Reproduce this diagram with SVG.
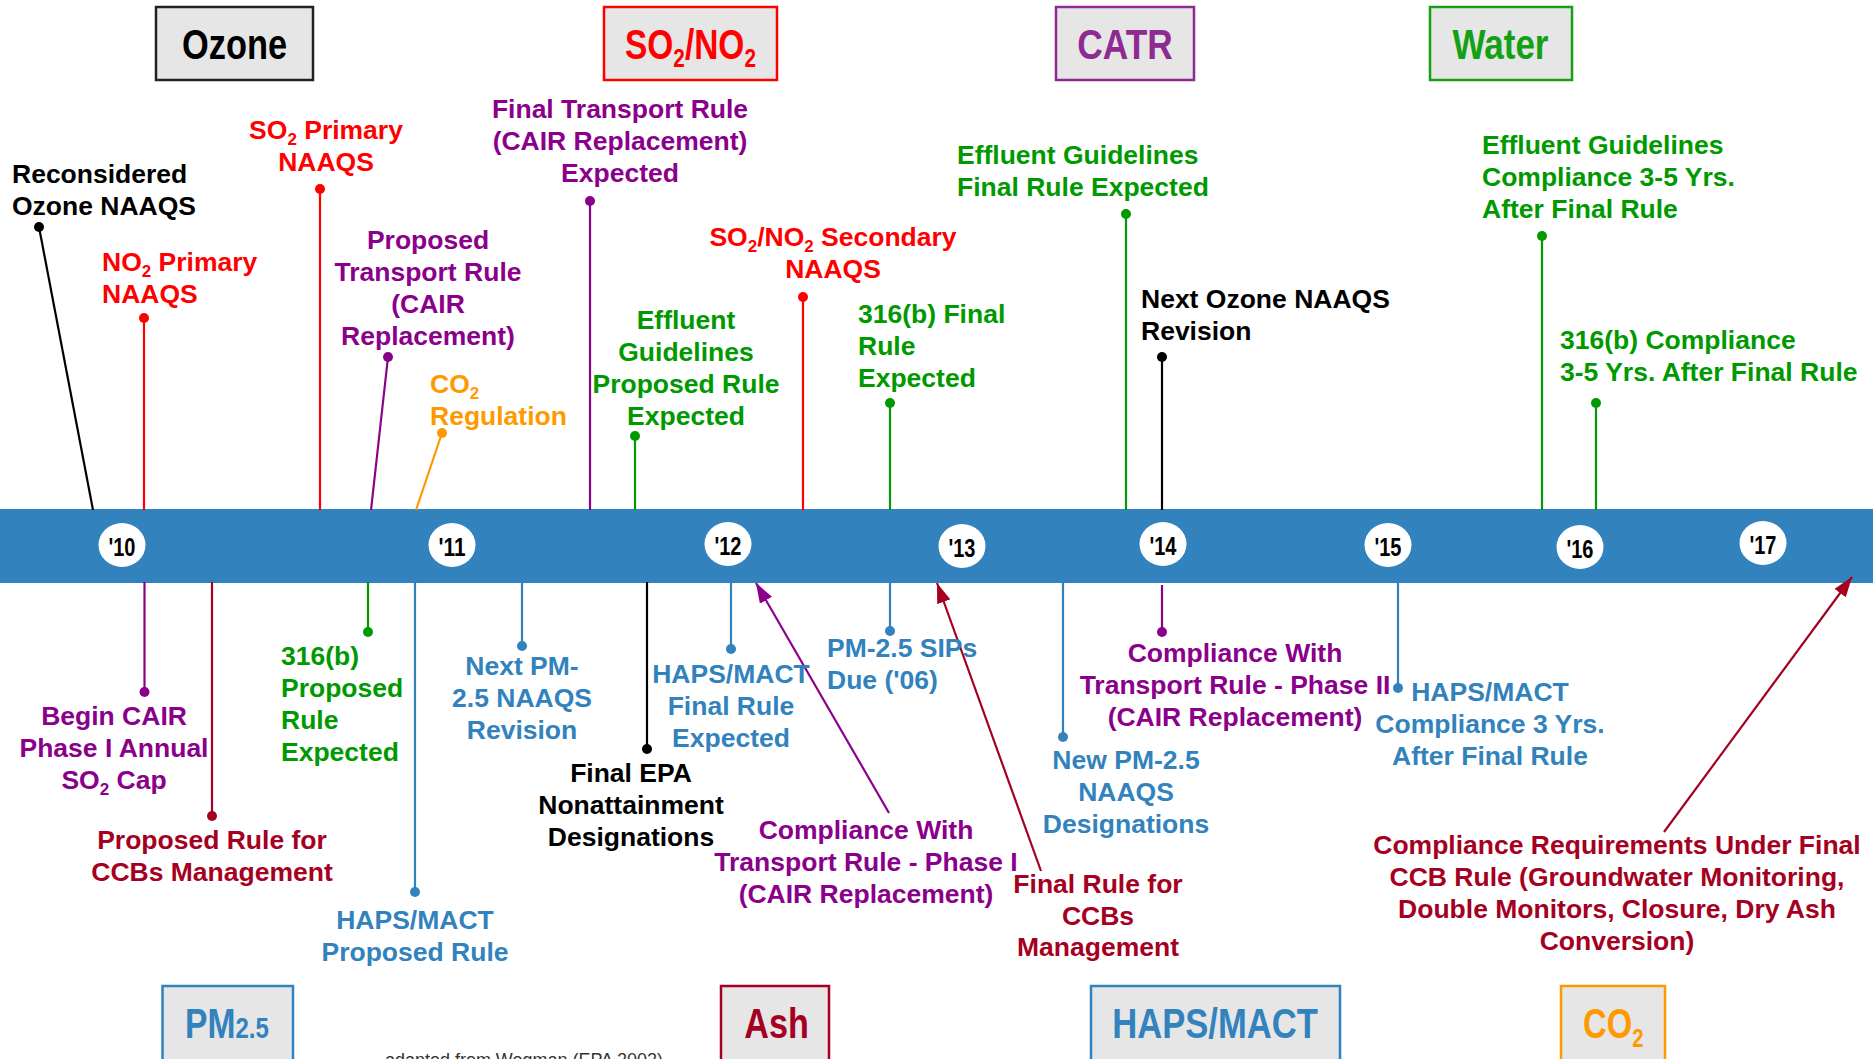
<svg xmlns="http://www.w3.org/2000/svg" width="1873" height="1059" viewBox="0 0 1873 1059">
<style>
text{font-family:"Liberation Sans",Arial,sans-serif}
.lbl{font-size:26.5px;font-weight:bold}
.sub{font-size:17px}
.ttl{font-size:42px;font-weight:bold}
.yr{font-size:26px;fill:#000;font-weight:bold}
.box{fill:#e6e6e6;stroke-width:2.5}
.k{fill:#000}.r{fill:#ff0000}.p{fill:#8b008b}.g{fill:#009900}.o{fill:#ff9900}.b{fill:#3182bd}.d{fill:#a50021}
.ln{stroke-width:2.2;fill:none}
.sk{stroke:#000}.sr{stroke:#ff0000}.sp{stroke:#8b008b}.sg{stroke:#009900}.so{stroke:#ff9900}.sb{stroke:#3182bd}.sd{stroke:#a50021}
</style>
<defs>
<marker id="ap" viewBox="0 0 20 14" refX="20" refY="7" markerWidth="20" markerHeight="14" markerUnits="userSpaceOnUse" orient="auto"><path d="M0,0 L20,7 L0,14 z" fill="#8b008b"/></marker>
<marker id="ad" viewBox="0 0 20 14" refX="20" refY="7" markerWidth="20" markerHeight="14" markerUnits="userSpaceOnUse" orient="auto"><path d="M0,0 L20,7 L0,14 z" fill="#a50021"/></marker>
</defs>
<rect width="1873" height="1059" fill="#fff"/>

<g id="timeline">
<rect x="0" y="509" width="1873" height="74" fill="#3282be"/>
<g fill="#fff">
<ellipse cx="122" cy="545" rx="23.5" ry="22"/>
<ellipse cx="452" cy="545" rx="23.5" ry="22"/>
<ellipse cx="728" cy="544" rx="23.5" ry="22"/>
<ellipse cx="962" cy="546" rx="23.5" ry="22"/>
<ellipse cx="1163" cy="544" rx="23.5" ry="22"/>
<ellipse cx="1388" cy="545" rx="23.5" ry="22"/>
<ellipse cx="1580" cy="547" rx="23.5" ry="22"/>
<ellipse cx="1763" cy="543" rx="23.5" ry="22"/>
</g>
<g class="yr" text-anchor="middle">
<text x="122" y="556" textLength="27" lengthAdjust="spacingAndGlyphs">'10</text>
<text x="452" y="556" textLength="27" lengthAdjust="spacingAndGlyphs">'11</text>
<text x="728" y="555" textLength="27" lengthAdjust="spacingAndGlyphs">'12</text>
<text x="962" y="557" textLength="27" lengthAdjust="spacingAndGlyphs">'13</text>
<text x="1163" y="555" textLength="27" lengthAdjust="spacingAndGlyphs">'14</text>
<text x="1388" y="556" textLength="27" lengthAdjust="spacingAndGlyphs">'15</text>
<text x="1580" y="558" textLength="27" lengthAdjust="spacingAndGlyphs">'16</text>
<text x="1763" y="554" textLength="27" lengthAdjust="spacingAndGlyphs">'17</text>
</g>
</g>

<g id="connectors">
<line class="ln sk" x1="39" y1="227" x2="93" y2="510"/>
<line class="ln sr" x1="144" y1="318" x2="144" y2="510"/>
<line class="ln sr" x1="320" y1="189" x2="320" y2="510"/>
<line class="ln sp" x1="388" y1="357" x2="371" y2="510"/>
<line class="ln so" x1="442" y1="433" x2="416" y2="510"/>
<line class="ln sp" x1="590" y1="201" x2="590" y2="510"/>
<line class="ln sg" x1="635" y1="436" x2="635" y2="510"/>
<line class="ln sr" x1="803" y1="297" x2="803" y2="510"/>
<line class="ln sg" x1="890" y1="403" x2="890" y2="510"/>
<line class="ln sg" x1="1126" y1="214" x2="1126" y2="510"/>
<line class="ln sk" x1="1162" y1="357" x2="1162" y2="510"/>
<line class="ln sg" x1="1542" y1="236" x2="1542" y2="510"/>
<line class="ln sg" x1="1596" y1="403" x2="1596" y2="510"/>
<line class="ln sp" x1="144.5" y1="582" x2="144.5" y2="692"/>
<line class="ln sd" x1="212" y1="582" x2="212" y2="816"/>
<line class="ln sg" x1="368" y1="582" x2="368" y2="632"/>
<line class="ln sb" x1="415" y1="582" x2="415" y2="892"/>
<line class="ln sb" x1="522" y1="582" x2="522" y2="646"/>
<line class="ln sk" x1="647" y1="582" x2="647" y2="749"/>
<line class="ln sb" x1="731" y1="582" x2="731" y2="649"/>
<line class="ln sb" x1="890" y1="582" x2="890" y2="631"/>
<line class="ln sb" x1="1063" y1="582" x2="1063" y2="737"/>
<line class="ln sp" x1="1162" y1="585" x2="1162" y2="632"/>
<line class="ln sb" x1="1398" y1="582" x2="1398" y2="688"/>
<line class="ln sp" x1="889" y1="813" x2="756" y2="583" marker-end="url(#ap)"/>
<line class="ln sd" x1="1041" y1="871" x2="937" y2="583" marker-end="url(#ad)"/>
<line class="ln sd" x1="1664" y1="832" x2="1852" y2="577" marker-end="url(#ad)"/>
<g>
<circle class="k" cx="39" cy="227" r="5"/>
<circle class="r" cx="144" cy="318" r="5"/>
<circle class="r" cx="320" cy="189" r="5"/>
<circle class="p" cx="388" cy="357" r="5"/>
<circle class="o" cx="442" cy="433" r="5"/>
<circle class="p" cx="590" cy="201" r="5"/>
<circle class="g" cx="635" cy="436" r="5"/>
<circle class="r" cx="803" cy="297" r="5"/>
<circle class="g" cx="890" cy="403" r="5"/>
<circle class="g" cx="1126" cy="214" r="5"/>
<circle class="k" cx="1162" cy="357" r="5"/>
<circle class="g" cx="1542" cy="236" r="5"/>
<circle class="g" cx="1596" cy="403" r="5"/>
<circle class="p" cx="144.5" cy="692" r="5"/>
<circle class="d" cx="212" cy="816" r="5"/>
<circle class="g" cx="368" cy="632" r="5"/>
<circle class="b" cx="415" cy="892" r="5"/>
<circle class="b" cx="522" cy="646" r="5"/>
<circle class="k" cx="647" cy="749" r="5"/>
<circle class="b" cx="731" cy="649" r="5"/>
<circle class="b" cx="890" cy="631" r="5"/>
<circle class="b" cx="1063" cy="737" r="5"/>
<circle class="p" cx="1162" cy="632" r="5"/>
<circle class="b" cx="1398" cy="688" r="5"/>
</g>
</g>

<g id="box-ozone">
<rect class="box" x="156" y="7" width="157" height="73" stroke="#222"/>
<text class="ttl k" x="234.5" y="59" text-anchor="middle" textLength="105" lengthAdjust="spacingAndGlyphs">Ozone</text>
</g>
<g id="box-so2no2">
<rect class="box" x="604" y="7" width="173" height="73" stroke="#ff0000"/>
<text class="ttl r" transform="translate(625,59) scale(0.797,1)">SO<tspan font-size="26" dy="8">2</tspan><tspan dy="-8">/NO</tspan><tspan font-size="26" dy="8">2</tspan></text>
</g>
<g id="box-catr">
<rect class="box" x="1056" y="7" width="138" height="73" stroke="#8e2a91"/>
<text class="ttl" fill="#8e2a91" x="1125" y="59" text-anchor="middle" textLength="95.5" lengthAdjust="spacingAndGlyphs">CATR</text>
</g>
<g id="box-water">
<rect class="box" x="1430" y="7" width="142" height="73" stroke="#14a014"/>
<text class="ttl" fill="#14a014" x="1500.5" y="59" text-anchor="middle" textLength="96" lengthAdjust="spacingAndGlyphs">Water</text>
</g>
<g id="box-pm25">
<rect class="box" x="162.5" y="986" width="130.5" height="100" stroke="#3182bd"/>
<text class="ttl b" transform="translate(185,1038) scale(0.8,1)">PM<tspan font-size="30">2.5</tspan></text>
</g>
<g id="box-ash">
<rect class="box" x="721" y="986" width="108" height="100" stroke="#a50021"/>
<text class="ttl d" x="776.5" y="1038" text-anchor="middle" textLength="64.5" lengthAdjust="spacingAndGlyphs">Ash</text>
</g>
<g id="box-hapsmact">
<rect class="box" x="1091" y="986" width="249" height="100" stroke="#3182bd"/>
<text class="ttl b" x="1215" y="1038" text-anchor="middle" textLength="205.5" lengthAdjust="spacingAndGlyphs">HAPS/MACT</text>
</g>
<g id="box-co2">
<rect class="box" x="1561" y="986" width="104" height="100" stroke="#ff9900"/>
<text class="ttl o" transform="translate(1583,1038) scale(0.78,1)">CO<tspan font-size="26" dy="9">2</tspan></text>
</g>

<g id="n-reconsidered"><text class="lbl k"><tspan x="12" y="183">Reconsidered</tspan><tspan x="12" y="215">Ozone NAAQS</tspan></text></g>
<g id="n-no2primary"><text class="lbl r"><tspan x="102" y="271">NO<tspan class="sub" dy="6">2</tspan><tspan dy="-6"> Primary</tspan></tspan><tspan x="102" y="303">NAAQS</tspan></text></g>
<g id="n-so2primary"><text class="lbl r" text-anchor="middle"><tspan x="326" y="139">SO<tspan class="sub" dy="6">2</tspan><tspan dy="-6"> Primary</tspan></tspan><tspan x="326" y="171">NAAQS</tspan></text></g>
<g id="n-proposed-transport"><text class="lbl p" text-anchor="middle"><tspan x="428" y="249">Proposed</tspan><tspan x="428" y="281">Transport Rule</tspan><tspan x="428" y="313">(CAIR</tspan><tspan x="428" y="345">Replacement)</tspan></text></g>
<g id="n-co2reg"><text class="lbl o"><tspan x="430" y="393">CO<tspan class="sub" dy="6">2</tspan></tspan><tspan x="430" y="425">Regulation</tspan></text></g>
<g id="n-final-transport"><text class="lbl p" text-anchor="middle"><tspan x="620" y="118">Final Transport Rule</tspan><tspan x="620" y="150">(CAIR Replacement)</tspan><tspan x="620" y="182">Expected</tspan></text></g>
<g id="n-effluent-proposed"><text class="lbl g" text-anchor="middle"><tspan x="686" y="329">Effluent</tspan><tspan x="686" y="361">Guidelines</tspan><tspan x="686" y="393">Proposed Rule</tspan><tspan x="686" y="425">Expected</tspan></text></g>
<g id="n-secondary"><text class="lbl r" text-anchor="middle"><tspan x="833" y="246">SO<tspan class="sub" dy="6">2</tspan><tspan dy="-6">/NO</tspan><tspan class="sub" dy="6">2</tspan><tspan dy="-6"> Secondary</tspan></tspan><tspan x="833" y="278">NAAQS</tspan></text></g>
<g id="n-316b-final"><text class="lbl g"><tspan x="858" y="323">316(b) Final</tspan><tspan x="858" y="355">Rule</tspan><tspan x="858" y="387">Expected</tspan></text></g>
<g id="n-effluent-final"><text class="lbl g"><tspan x="957" y="164">Effluent Guidelines</tspan><tspan x="957" y="196">Final Rule Expected</tspan></text></g>
<g id="n-next-ozone"><text class="lbl k"><tspan x="1141" y="308">Next Ozone NAAQS</tspan><tspan x="1141" y="340">Revision</tspan></text></g>
<g id="n-effluent-compliance"><text class="lbl g"><tspan x="1482" y="154">Effluent Guidelines</tspan><tspan x="1482" y="186">Compliance 3-5 Yrs.</tspan><tspan x="1482" y="218">After Final Rule</tspan></text></g>
<g id="n-316b-compliance"><text class="lbl g"><tspan x="1560" y="349">316(b) Compliance</tspan><tspan x="1560" y="381">3-5 Yrs. After Final Rule</tspan></text></g>

<g id="n-begin-cair"><text class="lbl p" text-anchor="middle"><tspan x="114" y="725">Begin CAIR</tspan><tspan x="114" y="757">Phase I Annual</tspan><tspan x="114" y="789">SO<tspan class="sub" dy="6">2</tspan><tspan dy="-6"> Cap</tspan></tspan></text></g>
<g id="n-proposed-ccb"><text class="lbl d" text-anchor="middle"><tspan x="212" y="849">Proposed Rule for</tspan><tspan x="212" y="881">CCBs Management</tspan></text></g>
<g id="n-316b-proposed"><text class="lbl g"><tspan x="281" y="665">316(b)</tspan><tspan x="281" y="697">Proposed</tspan><tspan x="281" y="729">Rule</tspan><tspan x="281" y="761">Expected</tspan></text></g>
<g id="n-haps-proposed"><text class="lbl b" text-anchor="middle"><tspan x="415" y="929">HAPS/MACT</tspan><tspan x="415" y="961">Proposed Rule</tspan></text></g>
<g id="n-next-pm"><text class="lbl b" text-anchor="middle"><tspan x="522" y="675">Next PM-</tspan><tspan x="522" y="707">2.5 NAAQS</tspan><tspan x="522" y="739">Revision</tspan></text></g>
<g id="n-final-epa"><text class="lbl k" text-anchor="middle"><tspan x="631" y="782">Final EPA</tspan><tspan x="631" y="814">Nonattainment</tspan><tspan x="631" y="846">Designations</tspan></text></g>
<g id="n-haps-final"><text class="lbl b" text-anchor="middle"><tspan x="731" y="683">HAPS/MACT</tspan><tspan x="731" y="715">Final Rule</tspan><tspan x="731" y="747">Expected</tspan></text></g>
<g id="n-compliance-phase1"><text class="lbl p" text-anchor="middle"><tspan x="866" y="839">Compliance With</tspan><tspan x="866" y="871">Transport Rule - Phase I</tspan><tspan x="866" y="903">(CAIR Replacement)</tspan></text></g>
<g id="n-pm-sips"><text class="lbl b"><tspan x="827" y="657">PM-2.5 SIPs</tspan><tspan x="827" y="689">Due ('06)</tspan></text></g>
<g id="n-final-ccb"><text class="lbl d" text-anchor="middle"><tspan x="1098" y="893">Final Rule for</tspan><tspan x="1098" y="925">CCBs</tspan><tspan x="1098" y="956">Management</tspan></text></g>
<g id="n-new-pm"><text class="lbl b" text-anchor="middle"><tspan x="1126" y="769">New PM-2.5</tspan><tspan x="1126" y="801">NAAQS</tspan><tspan x="1126" y="833">Designations</tspan></text></g>
<g id="n-compliance-phase2"><text class="lbl p" text-anchor="middle"><tspan x="1235" y="662">Compliance With</tspan><tspan x="1235" y="694">Transport Rule - Phase II</tspan><tspan x="1235" y="726">(CAIR Replacement)</tspan></text></g>
<g id="n-haps-compliance"><text class="lbl b" text-anchor="middle"><tspan x="1490" y="701">HAPS/MACT</tspan><tspan x="1490" y="733">Compliance 3 Yrs.</tspan><tspan x="1490" y="765">After Final Rule</tspan></text></g>
<g id="n-ccb-requirements"><text class="lbl d" text-anchor="middle"><tspan x="1617" y="854">Compliance Requirements Under Final</tspan><tspan x="1617" y="886">CCB Rule (Groundwater Monitoring,</tspan><tspan x="1617" y="918">Double Monitors, Closure, Dry Ash</tspan><tspan x="1617" y="950">Conversion)</tspan></text></g>

<text x="385" y="1066" font-size="18" fill="#333" textLength="278" lengthAdjust="spacingAndGlyphs">adapted from  Wegman (EPA 2002)</text>
</svg>
